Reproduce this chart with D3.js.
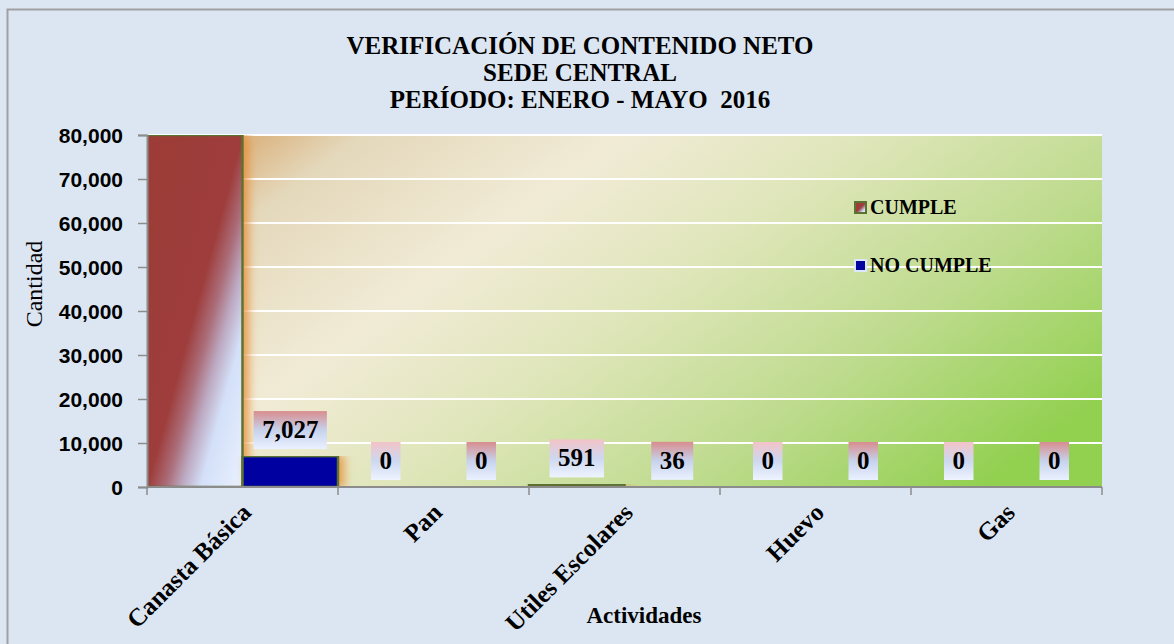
<!DOCTYPE html>
<html>
<head>
<meta charset="utf-8">
<script src="https://cdn.jsdelivr.net/npm/d3@7"></script>
<style>
  html, body { margin: 0; padding: 0; background: #dce6f2; }
  svg { display: block; }
</style>
</head>
<body>
<svg id="chart"></svg>
<script>
// Verificación de contenido neto - grouped bars

const categories = ["Canasta Básica", "Pan", "Utiles Escolares", "Huevo", "Gas"];
const seriesNames = ["CUMPLE", "NO CUMPLE"];
// Canasta Básica CUMPLE runs past the 80,000 axis top; its real value is not readable
const cumple = [90000, 0, 591, 0, 0];
const noCumple = [7027, 0, 36, 0, 0];
const yTicks = [0, 10000, 20000, 30000, 40000, 50000, 60000, 70000, 80000];
const titleLines = ["VERIFICACIÓN DE CONTENIDO NETO", "SEDE CENTRAL", "PERÍODO: ENERO - MAYO  2016"];

const width = 1174;
const height = 644;
const margin = { top: 135, right: 72, bottom: 157, left: 147 };
const plotW = width - margin.left - margin.right;
const plotH = height - margin.top - margin.bottom;

const svg = d3.select("#chart").attr("width", width).attr("height", height);
const defs = svg.append("defs");

// ---- gradients ----
function linGrad(id, x1, y1, x2, y2, stops) {
  const g = defs.append("linearGradient").attr("id", id)
    .attr("x1", x1).attr("y1", y1).attr("x2", x2).attr("y2", y2);
  stops.forEach(([o, c]) => g.append("stop").attr("offset", o).attr("stop-color", c));
}
linGrad("plotBg", 0, 0.25, 1, 0.75, [
  [0, "#dcb888"], [0.08, "#e4d8bb"], [0.3, "#f1ebd6"], [0.5, "#e0e6bb"],
  [0.75, "#bedb8e"], [1, "#92d050"]
]);
linGrad("redFill", 0, 0, 1, 1, [
  [0, "#9c3b38"], [0.5, "#9e3d3b"], [0.6, "#ab6e7a"], [0.68, "#bca8c0"],
  [0.78, "#d3e0f8"], [1, "#eaf1ff"]
]);
linGrad("lblCumple", 0, 0, 0, 1, [[0, "#f3c3c7"], [0.5, "#cdd8f0"], [1, "#eef4ff"]]);
linGrad("lblNo", 0, 0, 0, 1, [[0, "#d88d8e"], [0.5, "#c7d2ec"], [1, "#eaf1ff"]]);

const shadow = defs.append("filter").attr("id", "glow")
  .attr("x", "-20%").attr("y", "0%").attr("width", "160%").attr("height", "110%");
shadow.append("feDropShadow").attr("dx", 5).attr("dy", 0)
  .attr("stdDeviation", 5).attr("flood-color", "#e8903a").attr("flood-opacity", 0.85);

defs.append("clipPath").attr("id", "plotClip")
  .append("rect").attr("x", 0).attr("y", 0).attr("width", plotW + 2).attr("height", plotH);

// ---- outer frame ----
svg.append("rect")
  .attr("x", 7.5).attr("y", 9.5).attr("width", width + 20).attr("height", height + 20)
  .attr("fill", "#dce6f2").attr("stroke", "#a0a0a0").attr("stroke-width", 2);

// ---- title ----
svg.append("g").selectAll("text")
  .data(titleLines).join("text")
  .attr("x", 580).attr("y", (d, i) => 54 + i * 27)
  .attr("text-anchor", "middle")
  .attr("xml:space", "preserve")
  .style("white-space", "pre")
  .style("font-family", "'Liberation Serif', 'Times New Roman', serif")
  .style("font-weight", "bold").style("font-size", "25px")
  .attr("fill", "#000")
  .text((d) => d);

const g = svg.append("g").attr("transform", `translate(${margin.left},${margin.top})`);

// ---- scales ----
const x0 = d3.scaleBand().domain(categories).range([0, plotW]).paddingInner(0).paddingOuter(0);
const x1 = d3.scaleBand().domain(seriesNames).range([0, x0.bandwidth()]).padding(0);
const y = d3.scaleLinear().domain([0, 80000]).range([plotH, 0]);

// ---- plot background + grid ----
g.append("rect").attr("width", plotW).attr("height", plotH).attr("fill", "url(#plotBg)");

g.append("g").selectAll("line")
  .data(yTicks.filter((t) => t > 0)).join("line")
  .attr("x1", 0).attr("x2", plotW)
  .attr("y1", (d) => y(d)).attr("y2", (d) => y(d))
  .attr("stroke", "#ffffff").attr("stroke-width", 2);

// ---- bars ----
const rows = categories.map((c, i) => ({ cat: c, values: [
  { series: "CUMPLE", value: cumple[i] },
  { series: "NO CUMPLE", value: noCumple[i] }
] }));

const barsG = g.append("g").attr("clip-path", "url(#plotClip)");
const barData = rows.flatMap((r) => r.values.map((v) => ({ cat: r.cat, ...v })))
  .filter((d) => d.value > 0);

barsG.selectAll("rect.bar")
  .data(barData).join("rect")
  .attr("class", "bar")
  .attr("x", (d) => x0(d.cat) + x1(d.series))
  .attr("y", (d) => y(Math.min(d.value, 80000)))
  .attr("width", x1.bandwidth())
  .attr("height", (d) => plotH - y(Math.min(d.value, 80000)))
  .attr("fill", (d) => (d.series === "CUMPLE" ? "url(#redFill)" : "#0505a0"))
  .attr("stroke", "#5a7330").attr("stroke-width", 2.5)
  .attr("filter", "url(#glow)");

// ---- axes ----
const yAxis = g.append("g")
  .call(d3.axisLeft(y).tickValues(yTicks).tickSize(9).tickPadding(15).tickFormat(d3.format(",")));
yAxis.select(".domain").attr("stroke", "#8c8c8c").attr("stroke-width", 2);
yAxis.selectAll(".tick line").attr("stroke", "#8c8c8c").attr("stroke-width", 1.5);
yAxis.selectAll(".tick text")
  .style("font-family", "'Liberation Sans', Arial, sans-serif")
  .style("font-weight", "bold").style("font-size", "21px").attr("fill", "#000")
  .attr("dy", "0.35em");

const xAxisG = g.append("g").attr("transform", `translate(0,${plotH})`);
xAxisG.append("line").attr("x1", 0).attr("x2", plotW)
  .attr("stroke", "#8c8c8c").attr("stroke-width", 2);
xAxisG.selectAll("line.tk")
  .data(d3.range(categories.length + 1)).join("line")
  .attr("class", "tk")
  .attr("x1", (i) => i * x0.step()).attr("x2", (i) => i * x0.step())
  .attr("y1", 0).attr("y2", 8)
  .attr("stroke", "#8c8c8c").attr("stroke-width", 1.5);

xAxisG.selectAll("text.cat")
  .data(categories).join("text")
  .attr("class", "cat")
  .attr("text-anchor", "end")
  .attr("transform", (d) => `translate(${x0(d) + x0.bandwidth() / 2 + 10},${27}) rotate(-45)`)
  .style("font-family", "'Liberation Serif', 'Times New Roman', serif")
  .style("font-weight", "bold").style("font-size", "25px").attr("fill", "#000")
  .text((d) => d);

// axis titles
svg.append("text")
  .attr("x", 644).attr("y", 623).attr("text-anchor", "middle")
  .style("font-family", "'Liberation Serif', 'Times New Roman', serif")
  .style("font-weight", "bold").style("font-size", "23px")
  .text("Actividades");

svg.append("text")
  .attr("transform", "translate(42,284) rotate(-90)").attr("text-anchor", "middle")
  .style("font-family", "'Liberation Serif', 'Times New Roman', serif")
  .style("font-size", "24px")
  .text("Cantidad");

// ---- data labels ----
const fmt = d3.format(",");
const labelData = rows.flatMap((r) => r.values.map((v) => ({ cat: r.cat, ...v })))
  .filter((d) => d.value <= 80000);

const lbl = g.append("g").selectAll("g.lbl")
  .data(labelData).join("g")
  .attr("class", "lbl")
  .attr("transform", (d) => `translate(${x0(d.cat) + x1(d.series) + x1.bandwidth() / 2},${y(d.value) - 7})`);

lbl.append("text")
  .attr("text-anchor", "middle").attr("y", -11)
  .style("font-family", "'Liberation Serif', 'Times New Roman', serif")
  .style("font-weight", "bold").style("font-size", "25px").attr("fill", "#000")
  .text((d) => fmt(d.value));

lbl.each(function (d) {
  const t = d3.select(this).select("text");
  const w = t.node().getComputedTextLength() + 17;
  d3.select(this).insert("rect", "text")
    .attr("x", -w / 2).attr("y", -38).attr("width", w).attr("height", 38)
    .attr("fill", d.series === "CUMPLE" ? "url(#lblCumple)" : "url(#lblNo)");
});

// ---- legend ----
const legend = svg.append("g").attr("transform", "translate(855,200)");
const legItems = legend.selectAll("g")
  .data(seriesNames).join("g")
  .attr("transform", (d, i) => `translate(0,${i * 58})`);
legItems.append("rect")
  .attr("x", 0).attr("y", 2).attr("width", 11).attr("height", 11)
  .attr("fill", (d) => (d === "CUMPLE" ? "url(#redFill)" : "#0505a0"))
  .attr("stroke", (d) => (d === "CUMPLE" ? "#5a7330" : "#dce8fa"))
  .attr("stroke-width", 2);
legItems.append("text")
  .attr("x", 15).attr("y", 14)
  .style("font-family", "'Liberation Serif', 'Times New Roman', serif")
  .style("font-weight", "bold").style("font-size", "20px").attr("fill", "#000")
  .text((d) => d);
</script>
</body>
</html>
